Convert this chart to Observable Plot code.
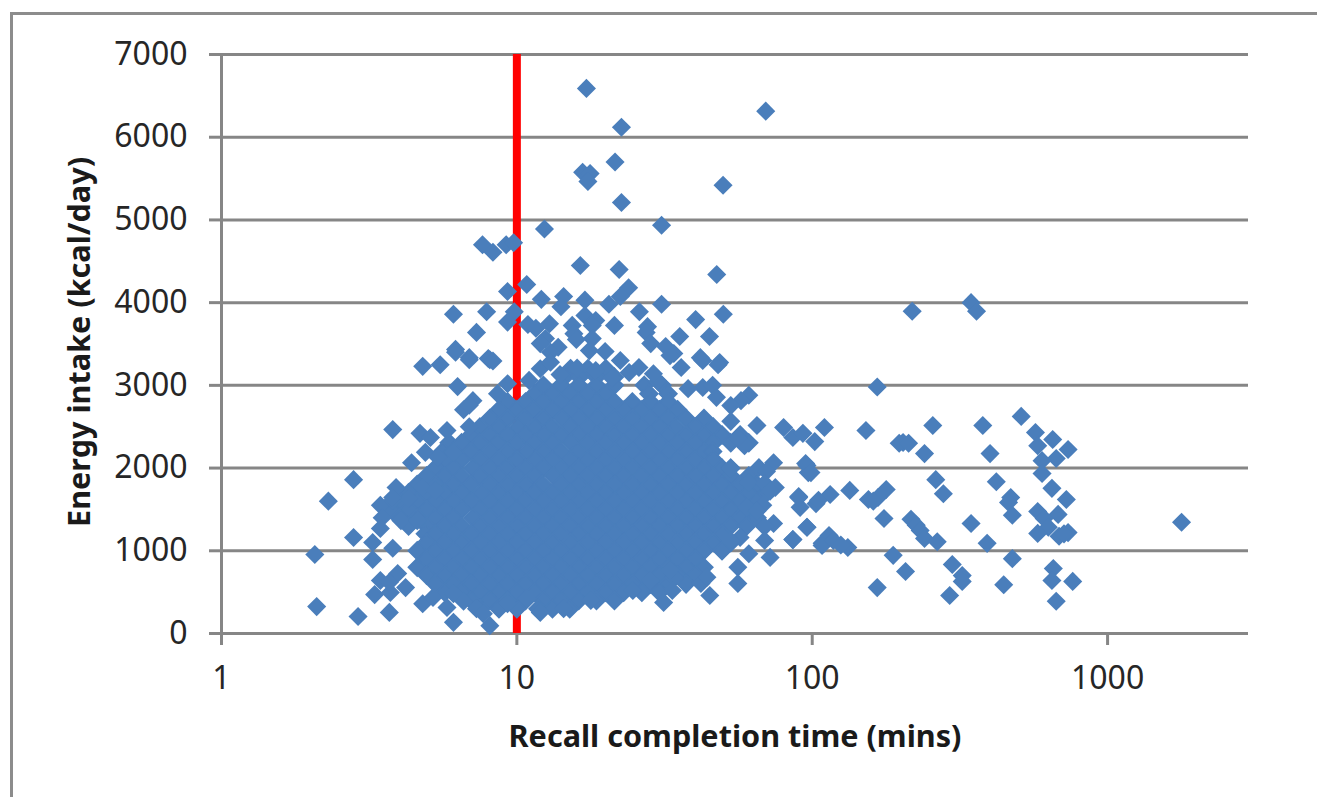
<!DOCTYPE html>
<html>
<head>
<meta charset="utf-8">
<script src="https://cdn.jsdelivr.net/npm/d3@7"></script>
<script src="https://cdn.jsdelivr.net/npm/@observablehq/plot@0.6"></script>
<style>
html,body{margin:0;padding:0;background:#fff;overflow:hidden}
#frame{position:absolute;left:10px;top:12px;right:-5px;bottom:-5px;border-left:3px solid #8c8c8c;border-top:3px solid #8c8c8c}
#chart{position:absolute;left:0;top:0}
</style>
</head>
<body>
<div id="frame"></div>
<div id="chart"></div>
<script>
const xTicks = [1, 10, 100, 1000];
const yTicks = [0, 1000, 2000, 3000, 4000, 5000, 6000, 7000];
const cutoffMinutes = [10];
const xLabel = "Recall completion time (mins)";
const yLabel = "Energy intake (kcal/day)";

// [minutes, kcal]
const upperPoints = [[17.2,6590],[22.6,6120],[69.6,6315],[21.5,5700],[16.7,5575],[17.7,5560],[17.4,5465],[49.9,5420],[22.6,5210],[30.9,4935],[12.4,4890],[7.65,4700],[8.3,4610],[9.2,4700],[9.75,4725],[16.4,4450],[22.2,4400],[47.5,4340],[10.8,4220],[9.3,4135],[23.9,4180],[22.4,4075],[14.4,4075],[12.1,4040],[17,4030],[30.9,3980],[20.5,3980],[14.1,3950],[26,3890],[50,3860],[6.1,3860],[7.9,3890],[9.8,3890],[9.3,3765],[17,3845],[18.5,3785],[18,3725],[10.9,3735],[11.6,3690],[12.9,3745],[15.4,3725],[21.4,3725],[40.3,3795],[27.7,3710],[27.4,3640],[35.6,3590],[44.9,3590],[7.3,3640],[6.2,3435],[15.6,3625],[15.9,3555],[18,3565],[12.5,3565],[12,3505],[13.8,3460],[13,3400],[28.4,3505],[31.9,3470],[34,3385],[17.6,3420],[19.9,3410],[6.9,3335],[8,3325],[41.8,3335],[48.6,3275],[22.4,3300],[4.8,3230],[5.5,3250],[6.2,3400],[6.9,3310],[8.1,3310],[8.3,3295],[42.6,3300],[48,3250],[36,3215],[33,3360],[25.9,3215],[24,3155],[42.6,2975],[46,3000],[47.4,2855],[61,2880],[57.4,2815],[53,2755],[30,3050],[14,3130],[16,3210],[18.5,3180],[21,3090],[12,3200],[13,3280],[11,3060],[29,3140],[38,2960]];

const leftPoints = [[6.3,2985],[9.3,3020],[8.6,2900],[7.1,2815],[6.6,2705],[6.9,2760],[6.9,2500],[3.8,2465],[4.7,2420],[5.1,2370],[5.8,2455],[4.9,2190],[4.4,2065],[6.1,2190],[5.4,2130],[2.8,1860],[2.3,1600],[3.9,1765],[3.45,1550],[3.8,1610],[4.3,1630],[3.8,1645],[4.8,1765],[5.3,1730],[3.5,1400],[4.05,1365],[3.45,1270],[4.6,1365],[2.8,1160],[3.25,1100],[3.8,1030],[3.25,895],[2.07,955],[3.45,640],[3.95,725],[3.3,470],[3.73,495],[4.2,555],[3.7,620],[4.8,360],[5.2,435],[6.1,480],[5.8,315],[6.1,135],[8.1,95],[2.1,325],[2.9,205],[3.7,255],[7.3,300],[7.7,240],[9.3,400],[6.6,390]];

const rightPoints = [[53,2565],[65,2515],[80,2490],[86,2370],[93,2420],[102,2320],[110,2490],[59,2270],[56,2360],[53,1995],[66,2005],[74,2065],[96,2030],[97,1945],[70,1960],[61,1825],[69,1815],[75,1765],[72,1720],[90,1655],[91,1525],[103,1570],[60,1525],[68,1550],[65,1480],[74,1330],[69,1290],[96,1285],[86,1135],[69,1125],[108,1090],[57,1160],[53,1120],[61,965],[72,920],[56,800],[56,605],[45,460],[42,605],[44,680],[34,680],[31.4,375],[33.6,520],[33,770],[12,255],[14.4,300],[17.8,400],[24.7,520],[28.4,640],[9.3,360],[10.8,425]];

const farRightPoints = [[218,3895],[345,4000],[360,3895],[166,2980],[510,2625],[256,2515],[378,2515],[152,2455],[570,2430],[652,2345],[580,2270],[203,2310],[197,2300],[212,2300],[240,2175],[400,2175],[735,2225],[670,2115],[600,2090],[600,1935],[95,2055],[99,1945],[262,1860],[420,1835],[278,1690],[648,1755],[470,1645],[462,1585],[725,1620],[134,1730],[178,1740],[167,1645],[155,1620],[161,1600],[115,1680],[105,1610],[90,1645],[476,1430],[580,1475],[680,1440],[175,1390],[216,1380],[225,1310],[232,1245],[240,1150],[265,1110],[345,1330],[610,1390],[630,1285],[580,1210],[685,1175],[735,1220],[712,1205],[96,1285],[86,1135],[114,1185],[108,1065],[118,1125],[132,1040],[125,1070],[391,1090],[188,945],[476,905],[207,750],[298,835],[322,700],[322,630],[655,785],[648,640],[762,630],[166,555],[292,460],[445,590],[670,390],[1780,1345]];

// The filled core: energy level of a row and the times spanning it
const coreEnergies = [3200,3100,3000,2900,2800,2705,2600,2495,2400,2305,2200,2100,2000,1905,1800,1700,1600,1500,1400,1300,1205,1100,1000,900,800,705,600,500,400,300];
const coreTimes = [
[15.2,17.4,20],
[14.5,16.3,18.6,21.4],
[12.3,14.1,16.2,18.6,21.4,27,31],
[11.5,13.2,15.2,17.4,20,28,32.5],
[9.3,10.7,12.3,14.1,16.2,18.6,21.4,24.6,28.3,32.5],
[8.7,10,11.4,13.2,15.2,17.5,20,23.1,26.5,30.4,35],
[8.1,9.3,10.6,12.3,14.2,16.2,18.7,21.4,24.6,28.3,32.5,37.4,43],
[7.5,8.7,10.1,11.5,13.1,15.2,17.4,20.1,23,26.4,30.4,34.5,40.2,46.3],
[7,8.1,9.3,10.7,12.4,14.1,16.2,18.6,21.3,24.6,28.4,32.5,37.4,43,49.5,57],
[5.9,6.5,7.5,8.6,10,11.5,13.2,15.3,17.4,20,23,26.5,30.3,35,40.2,46.3,53,61],
[5.6,6.1,7,8.1,9.3,10.8,12.3,14.1,16.1,18.6,21.4,24.7,28.3,32.6,37.5,43,46],
[5.7,6.5,7.5,8.7,10,11.6,13.2,15.2,17.3,20,23.1,26.5,30.4,35.1,40.1,46.3],
[5.3,6.1,7.1,8.1,9.2,10.7,12.3,14.1,16.2,18.7,21.4,24.6,28.2,32.5,37.4,43.1,49.5,53],
[4.95,5.7,6.5,7.5,8.7,10,11.5,13.3,15.2,17.4,20,23,26.4,30.4,35,40.3,46.2,53,61],
[4.6,5.3,6.1,7,8.1,9.3,10.7,12.2,14.1,16.2,18.6,21.5,24.6,28.3,32.5,37.3,43,49.5,57,65],
[4.3,4.95,5.7,6.5,7.6,8.7,10,11.5,13.2,15.2,17.3,20,23,26.5,30.4,35,40.2,46.3,53,61,70],
[4,4.6,5.3,6.1,7,8.1,9.3,10.6,12.3,14.1,16.2,18.6,21.4,24.7,28.3,32.5,37.4,43,49.4,57,65],
[3.75,4.3,4.95,5.7,6.5,7.5,8.7,10,11.5,13.2,15.2,17.4,20.1,23,26.4,30.4,35,40.2,46.3,53,61],
[4,4.6,5.3,6.1,7.1,8.1,9.3,10.7,12.3,14.1,16.2,18.6,21.4,24.6,28.3,32.5,37.4,43,49.5,57,65],
[4.3,4.95,5.7,6.5,7.5,8.7,10,11.5,13.2,15.1,17.4,20,23,26.5,30.4,35,40.2,46.3,53,60],
[4.9,5.3,6.1,7,8.1,9.3,10.7,12.3,14.1,16.2,18.6,21.4,24.6,28.3,32.5,37.4,43,49.5],
[4.95,5.7,6.5,7.5,8.7,10,11.5,13.2,15.2,17.4,20,23,26.5,30.4,35,40.2,46.3,53],
[4.6,5.3,6.1,7,8.1,9.3,10.7,12.3,14.1,16.2,18.6,21.4,24.6,28.3,32.5,37.4,43,49.5],
[4.95,5.7,6.5,7.5,8.7,10,11.5,13.2,15.2,17.4,20,23,26.5,30.4,35,40.2],
[4.6,5.3,6.1,7,8.1,9.3,10.7,12.3,14.1,16.2,18.6,21.4,24.6,28.3,32.5,37.4,43],
[4.95,5.7,6.5,7.5,8.7,10,11.5,13.2,15.2,17.4,20,23,26.5,30.4,35,40.2],
[5.3,6.1,7,8.1,9.3,10.7,12.3,14.1,16.2,18.6,21.4,24.6,28.3,32.5,37.4],
[5.7,6.5,7.5,8.7,10,11.5,13.2,15.2,17.4,20,23,26.5,30.4],
[7,8.1,9.3,10.7,12.3,14.1,16.2,18.6,21.4],
[7.5,8.7,10,11.8,13.2,15.1]
];

const coreRows = coreEnergies.flatMap((kcal, i) => coreTimes[i].map(minutes => ({minutes, kcal})));
const scattered = [...upperPoints, ...leftPoints, ...rightPoints, ...farRightPoints].map(([minutes, kcal]) => ({minutes, kcal}));

const gray = "#868686";
const blue = "#4a7ebb";
const tickFont = "'Noto Sans', Roboto, sans-serif";
const plot = Plot.plot({
  width: 1317,
  height: 797,
  marginLeft: 221,
  marginRight: 69,
  marginTop: 54,
  marginBottom: 164,
  style: {background: "transparent", fontFamily: tickFont, overflow: "visible"},
  x: {type: "log", domain: [1, 3000]},
  y: {domain: [0, 7000]},
  marks: [
    Plot.gridY(yTicks, {stroke: gray, strokeOpacity: 1, strokeWidth: 3}),
    Plot.ruleX([1], {stroke: gray, strokeWidth: 3}),
    Plot.axisY({ticks: yTicks, tickSize: 12, tickPadding: 22, stroke: gray, strokeWidth: 3, fontSize: 32, fill: "#262626", tickFormat: d => String(d), label: null}),
    Plot.axisX({ticks: xTicks, tickSize: 12, tickPadding: 21, stroke: gray, strokeWidth: 3, fontSize: 32, fill: "#262626", tickFormat: d => String(d), label: null}),
    Plot.ruleX(cutoffMinutes, {stroke: "#ff0000", strokeWidth: 8}),
    Plot.dot(coreRows, {x: "minutes", y: "kcal", symbol: "diamond2", r: 8, fill: blue, stroke: blue, strokeWidth: 1.6}),
    Plot.dot(scattered, {x: "minutes", y: "kcal", symbol: "diamond2", r: 8.6, fill: blue, stroke: "none"}),
    Plot.text([xLabel], {frameAnchor: "bottom", dy: 104, fontSize: 30.6, fontWeight: "bold", fill: "#1a1a1a", lineAnchor: "middle"}),
    Plot.text([yLabel], {frameAnchor: "left", textAnchor: "middle", dx: -141, dy: -2, rotate: -90, fontSize: 30.6, fontWeight: "bold", fill: "#1a1a1a"})
  ]
});
document.getElementById("chart").appendChild(plot);
</script>
</body>
</html>
